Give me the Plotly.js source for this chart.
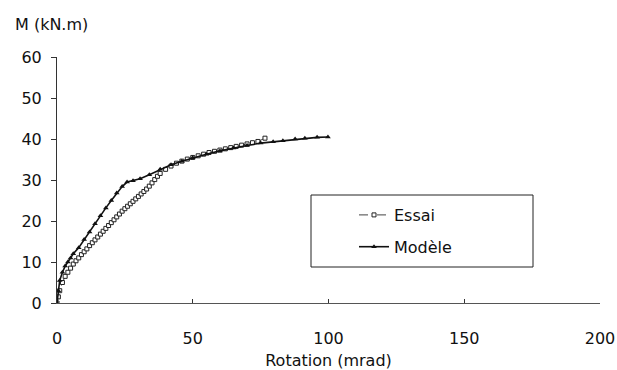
<!DOCTYPE html>
<html>
<head>
<meta charset="utf-8">
<script src="https://cdn.plot.ly/plotly-3.0.1.min.js"></script>
<style>html,body{margin:0;padding:0;background:#fff;}#chart{width:617px;height:370px;}</style>
</head>
<body>
<div id="chart"></div>
<script>
// Data
const essaiRotation = [0, 0.5, 1, 2, 3, 4, 5, 6, 7, 8, 9, 10, 11, 12, 13, 14, 15, 16, 17, 18, 19, 20, 21, 22, 23, 24, 25, 26, 27, 28, 29, 30, 31, 32, 33, 34, 35, 36, 37, 38, 40, 42, 44, 46, 48, 50, 52, 54, 56, 58, 60, 62, 64, 66, 68, 70, 72, 74, 76.6];
const essaiMoment   = [0, 1.5, 3, 5, 6.5, 7.5, 8.5, 9.5, 10.3, 11, 11.8, 12.5, 13.2, 14, 14.7, 15.4, 16.1, 16.8, 17.5, 18.2, 18.9, 19.6, 20.3, 21, 21.7, 22.4, 23, 23.6, 24.2, 24.8, 25.4, 26, 26.6, 27.2, 27.8, 28.5, 29.3, 30.1, 30.9, 31.6, 32.6, 33.4, 34.1, 34.6, 35.1, 35.5, 35.9, 36.3, 36.7, 37, 37.3, 37.6, 37.9, 38.2, 38.5, 38.8, 39.1, 39.4, 40.2];

const modeleRotation = [0, 0.5, 1, 2, 3, 4, 5, 6, 8, 10, 12, 14, 16, 18, 20, 22, 24, 25.8, 28, 30.6, 34, 38, 42, 46, 50, 55, 60, 65, 70, 75, 79.6, 83.2, 87.7, 91.3, 95.8, 99.8];
const modeleMoment   = [0, 3, 5.5, 7.5, 9, 10, 11, 12, 13.5, 15.5, 17.3, 19.3, 21.3, 23.2, 25, 26.8, 28.4, 29.5, 29.8, 30.3, 31.3, 32.6, 33.7, 34.6, 35.4, 36.3, 37.1, 37.8, 38.4, 39, 39.3, 39.6, 40, 40.2, 40.4, 40.5];

const seriesNames = ['Essai', 'Modèle'];
const xTickVals = [0, 50, 100, 150, 200];
const yTickVals = [0, 10, 20, 30, 40, 50, 60];

const FONT = '"DejaVu Sans", Arial, Helvetica, sans-serif';
const FS = 16;

const traces = [
  {
    x: essaiRotation, y: essaiMoment, name: seriesNames[0], legendgroup: 'a',
    mode: 'lines+markers', type: 'scatter',
    line: {color: '#444', width: 1, dash: 'dash'},
    marker: {symbol: 'square', size: 4, color: '#fff', line: {color: '#222', width: 1}}
  },
  {
    x: modeleRotation, y: modeleMoment, name: seriesNames[1], legendgroup: 'b',
    mode: 'lines+markers', type: 'scatter',
    line: {color: '#111', width: 1.6},
    marker: {symbol: 'triangle-up', size: 5, color: '#111'}
  }
];

const layout = {
  width: 617, height: 370,
  margin: {l: 57, r: 17, t: 57, b: 67},
  paper_bgcolor: '#fff', plot_bgcolor: '#fff',
  font: {family: FONT, size: FS, color: '#111'},
  showlegend: true,
  legend: {
    x: (354 - 57) / 543, y: (303 - 198) / 246, xanchor: 'left', yanchor: 'top',
    bgcolor: 'rgba(0,0,0,0)', borderwidth: 0,
    itemwidth: 30, tracegroupgap: 8, traceorder: 'grouped',
    font: {family: FONT, size: FS, color: '#111'}
  },
  xaxis: {
    range: [0, 200], tickvals: xTickVals, ticks: 'inside', ticklen: 4, tickcolor: '#333',
    showline: true, linecolor: '#555', linewidth: 1, showgrid: false, zeroline: false,
    ticklabelstandoff: 21,
    tickfont: {family: FONT, size: FS, color: '#111'},
    title: {text: 'Rotation (mrad)', font: {family: FONT, size: FS, color: '#111'}, standoff: 8},
    automargin: false
  },
  yaxis: {
    range: [0, 60], tickvals: yTickVals, ticks: 'outside', ticklen: 5, tickcolor: '#333',
    showline: true, linecolor: '#333', linewidth: 1, showgrid: false, zeroline: false,
    ticklabelstandoff: 6,
    tickfont: {family: FONT, size: FS, color: '#111'},
    automargin: false
  },
  shapes: [
    {type: 'rect', xref: 'paper', yref: 'paper',
     x0: (311 - 57) / 543, x1: (533 - 57) / 543,
     y0: (303 - 267) / 246, y1: (303 - 195) / 246,
     line: {color: '#222', width: 1}, fillcolor: 'rgba(0,0,0,0)'}
  ],
  annotations: [
    {text: 'M (kN.m)', xref: 'paper', yref: 'paper', x: (13 - 57) / 543, y: (303 - 25) / 246,
     xanchor: 'left', yanchor: 'middle', showarrow: false,
     font: {family: FONT, size: FS, color: '#111'}}
  ]
};

Plotly.newPlot('chart', traces, layout, {displayModeBar: false, staticPlot: true});
</script>
</body>
</html>
